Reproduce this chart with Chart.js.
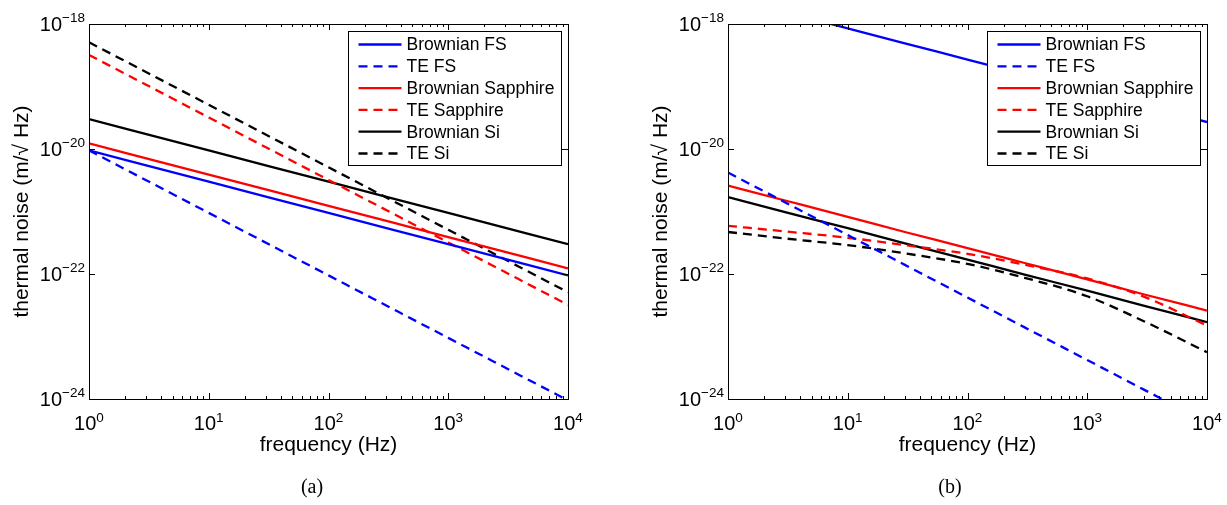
<!DOCTYPE html>
<html>
<head>
<meta charset="utf-8">
<script src="https://cdn.jsdelivr.net/npm/chart.js@4.4.0/dist/chart.umd.min.js"></script>
<style>
  body { margin: 0; background: #fff; width: 1227px; height: 505px; position: relative; overflow: hidden; }
  .panel { position: absolute; top: 0; height: 505px; }
  #wrapA { left: 0; width: 620px; }
  #wrapB { left: 639px; width: 588px; }
  .cap { position: absolute; top: 475px; font-family: "Liberation Serif", serif; font-size: 20px; color: #000; transform: translateX(-50%); }
</style>
</head>
<body>
<div class="panel" id="wrapA"><canvas id="chartA" width="620" height="505"></canvas></div>
<div class="panel" id="wrapB"><canvas id="chartB" width="588" height="505"></canvas></div>
<div class="cap" style="left:312px">(a)</div>
<div class="cap" style="left:950px">(b)</div>
<script>
// series names, same in both panels
var seriesNames = ["Brownian FS", "TE FS", "Brownian Sapphire", "TE Sapphire", "Brownian Si", "TE Si"];

// panel (a) - frequencies in Hz, noise in m/sqrt(Hz)
var freqA = [1, 10, 100, 1000, 10000];
var brownFS_A  = [9.5e-21, 3.0e-21, 9.5e-22, 3.0e-22, 9.5e-23];
var teFS_A     = [9.5e-21, 9.5e-22, 9.5e-23, 9.5e-24, 9.5e-25];
var brownSap_A = [1.23e-20, 3.9e-21, 1.23e-21, 3.9e-22, 1.23e-22];
var teSap_A    = [3.2e-19, 3.2e-20, 3.2e-21, 3.2e-22, 3.2e-23];
var brownSi_A  = [3.0e-20, 9.5e-21, 3.0e-21, 9.5e-22, 3.0e-22];
var teSi_A     = [5.1e-19, 5.1e-20, 5.1e-21, 5.1e-22, 5.1e-23];

// panel (b)
var freqB = [1, 3, 10, 30, 100, 300, 1000, 3000, 10000];
var brownFS_B  = [2.7e-18, 1.56e-18, 8.5e-19, 4.9e-19, 2.7e-19, 1.56e-19, 8.5e-20, 4.9e-20, 2.7e-20];
var teFS_B     = [4.2e-21, 1.4e-21, 4.2e-22, 1.4e-22, 4.2e-23, 1.4e-23, 4.2e-24, 1.4e-24, 4.2e-25];
var brownSap_B = [2.6e-21, 1.5e-21, 8.2e-22, 4.7e-22, 2.6e-22, 1.5e-22, 8.2e-23, 4.7e-23, 2.6e-23];
var teSap_B    = [5.9e-22, 4.8e-22, 3.8e-22, 2.9e-22, 2.1e-22, 1.41e-22, 8.5e-23, 4.3e-23, 1.5e-23];
var brownSi_B  = [1.7e-21, 9.8e-22, 5.4e-22, 3.1e-22, 1.7e-22, 9.8e-23, 5.4e-23, 3.1e-23, 1.7e-23];
var teSi_B     = [4.7e-22, 3.7e-22, 2.9e-22, 2.14e-22, 1.45e-22, 8.7e-23, 4.4e-23, 1.74e-23, 5.6e-24];

// tick labels
var xTickVals = [1, 10, 100, 1000, 10000];
var xTickExp = ["0", "1", "2", "3", "4"];
var yTickVals = [1e-24, 1e-22, 1e-20, 1e-18];
var yTickExp = ["\u221224", "\u221222", "\u221220", "\u221218"];

var colors = ["#0000ff", "#0000ff", "#ff0000", "#ff0000", "#000000", "#000000"];
var dashed = [false, true, false, true, false, true];
var FONT = '"Liberation Sans", Arial, Helvetica, sans-serif';

function buildDatasets(freq, lists) {
  var out = [];
  for (var i = 0; i < lists.length; i++) {
    var pts = [];
    for (var j = 0; j < freq.length; j++) {
      pts.push({ x: freq[j], y: lists[i][j] });
    }
    out.push({
      label: seriesNames[i],
      data: pts,
      borderColor: colors[i],
      backgroundColor: colors[i],
      borderWidth: 2.3,
      borderDash: dashed[i] ? [9, 6] : [],
      pointRadius: 0,
      fill: false,
      cubicInterpolationMode: "monotone"
    });
  }
  return out;
}

// MATLAB like box, inward ticks and 10^n labels
var axesPlugin = {
  id: "matlabAxes",
  afterDraw: function (chart) {
    var ctx = chart.ctx, a = chart.chartArea;
    var xs = chart.scales.x, ys = chart.scales.y;
    ctx.save();
    ctx.strokeStyle = "#000";
    ctx.lineWidth = 1;
    ctx.strokeRect(Math.round(a.left) + 0.5, Math.round(a.top) + 0.5, Math.round(a.right - a.left), Math.round(a.bottom - a.top));

    ctx.beginPath();
    for (var d = 1; d <= 10000; d *= 10) {
      for (var m = 1; m <= 9; m++) {
        var v = d * m;
        if (v > 10000) break;
        var px = Math.round(xs.getPixelForValue(v)) + 0.5;
        var len = m === 1 ? 6 : 3;
        ctx.moveTo(px, a.bottom); ctx.lineTo(px, a.bottom - len);
        ctx.moveTo(px, a.top); ctx.lineTo(px, a.top + len);
      }
    }
    for (var k = 0; k < yTickVals.length; k++) {
      var py = Math.round(ys.getPixelForValue(yTickVals[k])) + 0.5;
      ctx.moveTo(a.left, py); ctx.lineTo(a.left + 6, py);
      ctx.moveTo(a.right, py); ctx.lineTo(a.right - 6, py);
    }
    ctx.stroke();

    ctx.fillStyle = "#000";
    ctx.textBaseline = "alphabetic";
    ctx.textAlign = "left";
    var big = "20px " + FONT, small = "13.5px " + FONT;
    for (var i = 0; i < xTickVals.length; i++) {
      ctx.font = big; var w1 = ctx.measureText("10").width;
      ctx.font = small; var w2 = ctx.measureText(xTickExp[i]).width;
      var x0 = xs.getPixelForValue(xTickVals[i]) - (w1 + w2) / 2;
      ctx.font = big; ctx.fillText("10", x0, a.bottom + 31);
      ctx.font = small; ctx.fillText(xTickExp[i], x0 + w1, a.bottom + 23);
    }
    for (var j = 0; j < yTickVals.length; j++) {
      ctx.font = big; var b1 = ctx.measureText("10").width;
      ctx.font = small; var b2 = ctx.measureText(yTickExp[j]).width;
      var yy = ys.getPixelForValue(yTickVals[j]);
      var sx = a.left - 4 - (b1 + b2);
      ctx.font = big; ctx.fillText("10", sx, yy + 7);
      ctx.font = small; ctx.fillText(yTickExp[j], sx + b1, yy - 2);
    }
    ctx.restore();
  }
};

// boxed legend in the top right corner of the plot
var legendPlugin = {
  id: "boxLegend",
  afterDraw: function (chart) {
    var ctx = chart.ctx, a = chart.chartArea;
    var w = 213, h = 134;
    var x0 = Math.round(a.right - 7 - w) + 0.5, y0 = Math.round(a.top + 7) + 0.5;
    ctx.save();
    ctx.fillStyle = "#fff";
    ctx.fillRect(x0, y0, w, h);
    ctx.strokeStyle = "#000";
    ctx.lineWidth = 1;
    ctx.strokeRect(x0, y0, w, h);
    ctx.font = "17.5px " + FONT;
    ctx.textBaseline = "middle";
    chart.data.datasets.forEach(function (ds, i) {
      var y = y0 + 13 + i * 21.8;
      ctx.beginPath();
      ctx.setLineDash(ds.borderDash);
      ctx.strokeStyle = ds.borderColor;
      ctx.lineWidth = 2.3;
      ctx.moveTo(x0 + 10, y);
      ctx.lineTo(x0 + 53, y);
      ctx.stroke();
      ctx.setLineDash([]);
      ctx.fillStyle = "#000";
      ctx.fillText(ds.label, x0 + 58, y + 1);
    });
    ctx.restore();
  }
};

function makeOptions(rightPad) {
  return {
    responsive: false,
    animation: false,
    layout: { padding: { top: 24, right: rightPad, left: 0, bottom: 0 } },
    plugins: { legend: { display: false }, tooltip: { enabled: false } },
    scales: {
      x: {
        type: "logarithmic", min: 1, max: 10000,
        ticks: { display: false }, grid: { display: false }, border: { display: false },
        title: { display: true, text: "frequency (Hz)", color: "#000",
                 font: { family: FONT, size: 21 }, padding: { top: 0, bottom: 47.4 } },
        afterFit: function (s) { s.height = 106; }
      },
      y: {
        type: "logarithmic", min: 1e-24, max: 1e-18,
        ticks: { display: false }, grid: { display: false }, border: { display: false },
        title: { display: true, text: "thermal noise (m/\u221A Hz)", color: "#000",
                 font: { family: FONT, size: 21 }, padding: { top: 9.4, bottom: 0 } },
        afterFit: function (s) { s.width = 89; }
      }
    }
  };
}

new Chart(document.getElementById("chartA"), {
  type: "line",
  data: { datasets: buildDatasets(freqA, [brownFS_A, teFS_A, brownSap_A, teSap_A, brownSi_A, teSi_A]) },
  options: makeOptions(52),
  plugins: [axesPlugin, legendPlugin]
});

new Chart(document.getElementById("chartB"), {
  type: "line",
  data: { datasets: buildDatasets(freqB, [brownFS_B, teFS_B, brownSap_B, teSap_B, brownSi_B, teSi_B]) },
  options: makeOptions(20),
  plugins: [axesPlugin, legendPlugin]
});
</script>
</body>
</html>
